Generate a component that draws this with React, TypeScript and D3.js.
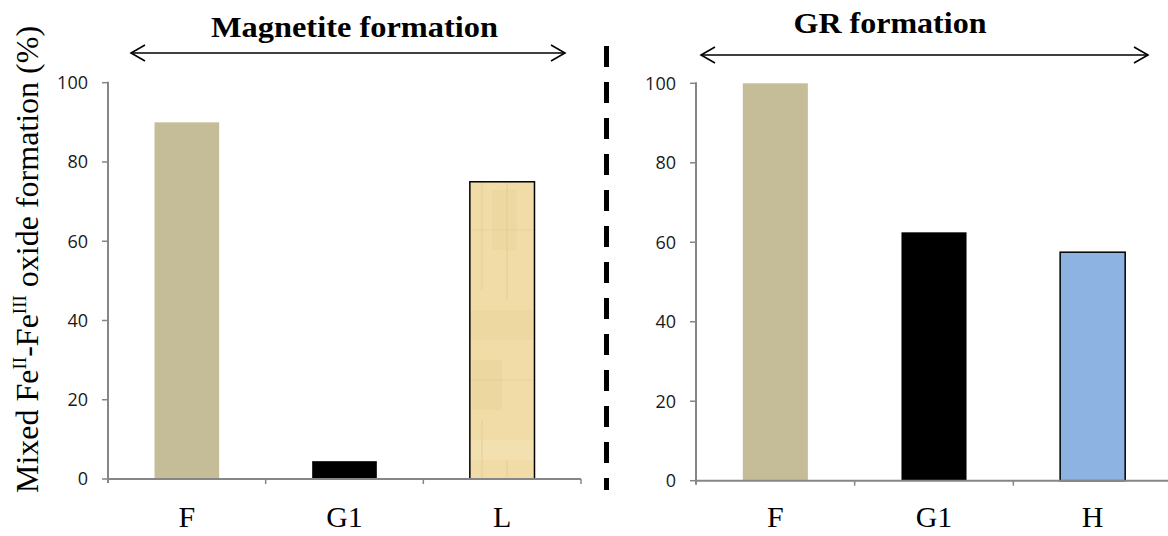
import React from "react";
import * as d3 from "d3";

const leftCategories = ["F", "G1", "L"];
const leftValues = [90, 4.5, 75];
const rightCategories = ["F", "G1", "H"];
const rightValues = [100, 62.5, 57.5];
const yTicks = [0, 20, 40, 60, 80, 100];
const leftTitle = "Magnetite formation";
const rightTitle = "GR formation";

const leftFills = ["#c4bd97", "#000000", "url(#papyrus)"];
const leftStrokes = ["none", "none", "#000"];
const rightFills = ["#c4bd97", "#000000", "#8db3e2"];
const rightStrokes = ["none", "none", "#000"];

const W = 1168;
const H = 536;
const AXIS = "#868686";

type PanelProps = {
  cats: string[];
  vals: number[];
  fills: string[];
  strokes: string[];
  x0: number;
  x1: number;
  yZero: number;
  yTop: number;
};

function Panel({ cats, vals, fills, strokes, x0, x1, yZero, yTop }: PanelProps) {
  const x = d3.scaleBand<string>().domain(cats).range([x0, x1]).padding(0);
  const y = d3.scaleLinear().domain([0, 100]).range([yZero, yTop]);
  const bw = x.bandwidth() * 0.41;
  return (
    <g>
      {cats.map((c, i) => {
        const cx = (x(c) as number) + x.bandwidth() / 2;
        const top = y(vals[i]);
        return (
          <rect
            key={c + i}
            x={cx - bw / 2}
            y={top}
            width={bw}
            height={y(0) - top}
            fill={fills[i]}
            stroke={strokes[i]}
            strokeWidth={strokes[i] === "none" ? 0 : 1.5}
          />
        );
      })}
      {/* y axis */}
      <line x1={x0} x2={x0} y1={y(100) - 1} y2={y(0) + 4} stroke={AXIS} strokeWidth={2} />
      {yTicks.map((t) => (
        <g key={t}>
          <line x1={x0 - 6} x2={x0} y1={y(t)} y2={y(t)} stroke={AXIS} strokeWidth={1.5} />
          <text
            x={x0 - 20}
            y={y(t)}
            dy="0.36em"
            textAnchor="end"
            fontFamily="'Open Sans', 'Noto Sans', sans-serif"
            fontSize={18}
            fill="#1a1a1a"
          >
            {t}
          </text>
        </g>
      ))}
      {/* x axis */}
      <line x1={x0} x2={x1} y1={y(0)} y2={y(0)} stroke={AXIS} strokeWidth={2} />
      {cats.map((c, i) =>
        i === 0 ? null : (
          <line key={"t" + c} x1={x(c) as number} x2={x(c) as number} y1={y(0)} y2={y(0) + 5} stroke={AXIS} strokeWidth={1.5} />
        )
      )}
      <line x1={x1} x2={x1} y1={y(0)} y2={y(0) + 5} stroke={AXIS} strokeWidth={1.5} />
      {cats.map((c) => (
        <text
          key={"l" + c}
          x={(x(c) as number) + x.bandwidth() / 2}
          y={527}
          textAnchor="middle"
          fontFamily="'Liberation Serif', 'Times New Roman', serif"
          fontSize={30}
          fill="#000"
        >
          {c}
        </text>
      ))}
    </g>
  );
}

function Arrow({ xa, xb, yy }: { xa: number; xb: number; yy: number }) {
  return (
    <g stroke="#000" strokeWidth={1.6} fill="none">
      <line x1={xa} x2={xb} y1={yy} y2={yy} />
      <polyline points={`${xa + 14},${yy - 8} ${xa},${yy} ${xa + 14},${yy + 8}`} />
      <polyline points={`${xb - 14},${yy - 8} ${xb},${yy} ${xb - 14},${yy + 8}`} />
    </g>
  );
}

export default function App() {
  return (
    <svg
      width={W}
      height={H}
      style={{ position: "absolute", left: 0, top: 0, background: "#fff" }}
    >
      <defs>
        <pattern id="papyrus" patternUnits="userSpaceOnUse" width={66} height={300} x={0} y={0}>
          <rect width={66} height={300} fill="#f1dca8" />
          <rect x={0} y={10} width={66} height={30} fill="#ecd59c" opacity={0.6} />
          <rect x={10} y={60} width={30} height={50} fill="#e8d197" opacity={0.5} />
          <rect x={0} y={140} width={66} height={20} fill="#f4e2b6" opacity={0.7} />
          <rect x={30} y={190} width={25} height={60} fill="#ead39a" opacity={0.5} />
          <line x1={20} x2={20} y1={120} y2={290} stroke="#dcc58e" strokeWidth={0.7} />
          <line x1={45} x2={45} y1={160} y2={300} stroke="#dcc58e" strokeWidth={0.7} />
          <line x1={0} x2={66} y1={80} y2={80} stroke="#e0c991" strokeWidth={0.6} />
          <line x1={0} x2={66} y1={230} y2={230} stroke="#e0c991" strokeWidth={0.6} />
        </pattern>
      </defs>

      <Panel
        cats={leftCategories}
        vals={leftValues}
        fills={leftFills}
        strokes={leftStrokes}
        x0={108}
        x1={581}
        yZero={479}
        yTop={82.7}
      />
      <Panel
        cats={rightCategories}
        vals={rightValues}
        fills={rightFills}
        strokes={rightStrokes}
        x0={696}
        x1={1172}
        yZero={480.7}
        yTop={83.3}
      />

      {/* dashed divider */}
      <line x1={606.5} x2={606.5} y1={46} y2={490} stroke="#000" strokeWidth={5} strokeDasharray="21 15" />

      <Arrow xa={131} xb={565} yy={53} />
      <Arrow xa={701} xb={1148} yy={55} />

      <text
        x={354.5}
        y={37}
        textAnchor="middle"
        fontFamily="'Liberation Serif', 'Times New Roman', serif"
        fontWeight="bold"
        fontSize={29}
        textLength={287}
        lengthAdjust="spacingAndGlyphs"
      >
        {leftTitle}
      </text>
      <text
        x={890}
        y={32.5}
        textAnchor="middle"
        fontFamily="'Liberation Serif', 'Times New Roman', serif"
        fontWeight="bold"
        fontSize={29}
        textLength={193}
        lengthAdjust="spacingAndGlyphs"
      >
        {rightTitle}
      </text>

      <text
        transform="translate(38,493) rotate(-90)"
        fontFamily="'Liberation Serif', 'Times New Roman', serif"
        fontSize={32}
        fill="#000"
      >
        Mixed Fe
        <tspan fontSize={19} dy={-12}>II</tspan>
        <tspan dy={12}>-Fe</tspan>
        <tspan fontSize={19} dy={-12}>III</tspan>
        <tspan dy={12}> oxide formation (%)</tspan>
      </text>
    </svg>
  );
}
